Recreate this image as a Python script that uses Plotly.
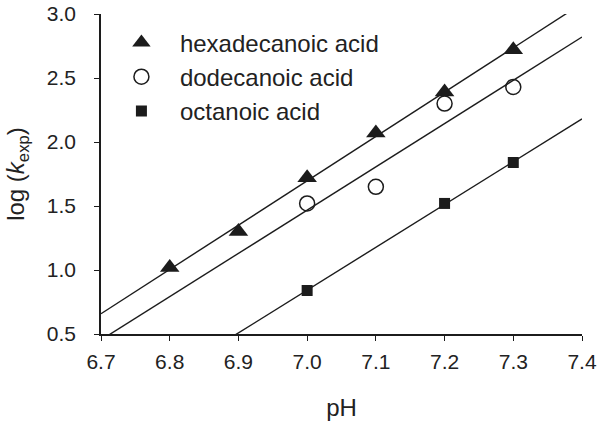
import numpy as np
import plotly.graph_objects as go

# data
ph_hexa = [6.8, 6.9, 7.0, 7.1, 7.2, 7.3]
logk_hexa = [1.02, 1.30, 1.72, 2.07, 2.39, 2.72]

ph_dodeca = [7.0, 7.1, 7.2, 7.3]
logk_dodeca = [1.52, 1.65, 2.30, 2.43]

ph_octa = [7.0, 7.2, 7.3]
logk_octa = [0.84, 1.52, 1.84]

x_ticks = [6.7, 6.8, 6.9, 7.0, 7.1, 7.2, 7.3, 7.4]
y_ticks = [0.5, 1.0, 1.5, 2.0, 2.5, 3.0]

ink = "#1c1c1c"
fnt = "Liberation Sans, Arial, sans-serif"

fig = go.Figure()

series = [
    ("hexadecanoic acid", ph_hexa, logk_hexa, dict(symbol="triangle-up", size=17, color=ink)),
    ("dodecanoic acid", ph_dodeca, logk_dodeca, dict(symbol="circle-open", size=15, color=ink, line=dict(width=1.5, color=ink))),
    ("octanoic acid", ph_octa, logk_octa, dict(symbol="square", size=11, color=ink)),
]

# regression lines across the whole x range (clipped by the axes)
xs = np.array([6.7, 7.4])
for name, x, y, m in series:
    slope, icpt = np.polyfit(x, y, 1)
    fig.add_trace(go.Scatter(x=xs, y=slope * xs + icpt, mode="lines",
                             line=dict(color=ink, width=1.4), showlegend=False,
                             hoverinfo="skip"))

for name, x, y, m in series:
    fig.add_trace(go.Scatter(x=x, y=y, mode="markers", name=name, marker=m))

fig.update_layout(
    width=602, height=430,
    margin=dict(l=101, r=20, t=14, b=96),
    paper_bgcolor="white", plot_bgcolor="white",
    font=dict(family=fnt, size=21, color="#222"),
    legend=dict(x=0.004, y=0.98, xanchor="left", yanchor="top", itemwidth=67,
                bgcolor="rgba(0,0,0,0)", font=dict(size=24)),
)
fig.update_xaxes(range=[6.7, 7.4], tickvals=x_ticks, tickformat=".1f",
                 showline=True, linecolor=ink, linewidth=1.5, mirror=False,
                 ticks="outside", ticklen=5, tickcolor=ink, showgrid=False,
                 zeroline=False, automargin=False, ticklabelstandoff=3,
                 title=dict(text="pH", standoff=27, font=dict(size=24)))
fig.update_yaxes(range=[0.5, 3.0], tickvals=y_ticks, tickformat=".1f",
                 showline=True, linecolor=ink, linewidth=1.5, mirror=False,
                 ticks="outside", ticklen=5, tickcolor=ink, showgrid=False,
                 zeroline=False, automargin=False, ticklabelstandoff=14,
                 title=dict(text="log (<i>k</i><sub>exp</sub>)", standoff=15,
                            font=dict(size=24)))

# drop the default page margin so the figure fills the window
fig.write_html("out.html", config={"displayModeBar": False},
               post_script="document.body.style.margin='0';")
